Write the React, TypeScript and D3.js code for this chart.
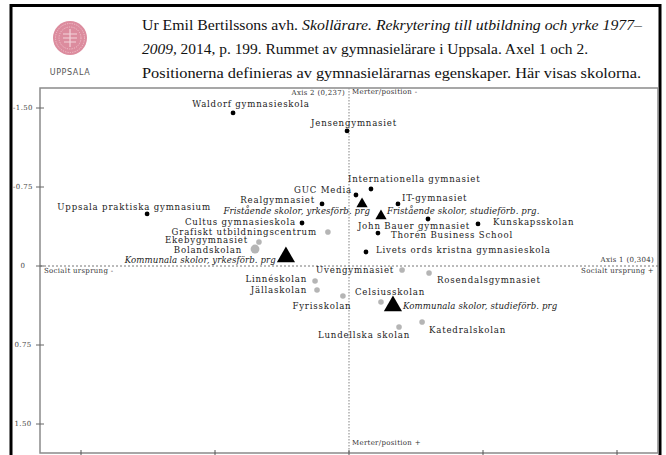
import React, { useRef, useEffect } from 'react';
import * as d3 from 'd3';

// Schools, coordinates on axis 1 (x) and axis 2 (y)
const schools = [
  'Waldorf gymnasieskola', 'Jensengymnasiet', 'Internationella gymnasiet', 'GUC Media',
  'Realgymnasiet', 'IT-gymnasiet', 'Uppsala praktiska gymnasium', 'Cultus gymnasieskola',
  'John Bauer gymnasiet', 'Kunskapsskolan', 'Thorén Business School', 'Livets ords kristna gymnasieskola',
  'Grafiskt utbildningscentrum', 'Ekebygymnasiet', 'Bolandskolan', 'Uvengymnasiet',
  'Rosendalsgymnasiet', 'Linnéskolan', 'Jällaskolan', 'Fyrisskolan',
  'Celsiusskolan', 'Katedralskolan', 'Lundellska skolan',
];
const axis1 = [
  -0.649, -0.011, 0.123, 0.039, -0.151, 0.274, -1.130, -0.263, 0.442, 0.722, 0.162, 0.095,
  -0.118, -0.504, -0.526, 0.297, 0.448, -0.190, -0.179, -0.034, 0.179, 0.409, 0.280,
];
const axis2 = [
  -1.453, -1.282, -0.731, -0.674, -0.589, -0.589, -0.494, -0.408, -0.446, -0.399, -0.313, -0.133,
  -0.323, -0.228, -0.161, 0.038, 0.066, 0.142, 0.228, 0.285, 0.342, 0.532, 0.579,
];
// true = fristående (black), false = kommunal (grey)
const independent = [
  true, true, true, true, true, true, true, true, true, true, true, true,
  false, false, false, false, false, false, false, false, false, false, false,
];
const weight = [1, 1, 1, 1, 1, 1, 1, 1, 1, 1, 1, 1, 1, 1, 2.5, 1, 1, 1, 1, 1, 1, 1, 1];

// Supplementary category points
const groups = [
  'Fristående skolor, yrkesförb. prg',
  'Fristående skolor, studieförb. prg.',
  'Kommunala skolor, yrkesförb. prg',
  'Kommunala skolor, studieförb. prg',
];
const groupAxis1 = [0.073, 0.179, -0.353, 0.246];
const groupAxis2 = [-0.589, -0.475, -0.085, 0.380];
const groupWeight = [1, 1, 2.6, 2.6];

const ticks = [-1.5, -0.75, 0, 0.75, 1.5];
const tickLabels = ['-1.50', '-0.75', '0', '0.75', '1.50'];

// label placement: [dx, dy, anchor]
const labelPos: Record<string, [number, number, string]> = {
  'Waldorf gymnasieskola': [18, -8, 'middle'],
  'Jensengymnasiet': [7, -7, 'middle'],
  'Internationella gymnasiet': [-23, -10, 'start'],
  'GUC Media': [-4, -5, 'end'],
  'Realgymnasiet': [-7, -3, 'end'],
  'IT-gymnasiet': [4, -5, 'start'],
  'Uppsala praktiska gymnasium': [-13, -6, 'middle'],
  'Cultus gymnasieskola': [-6, -1, 'end'],
  'John Bauer gymnasiet': [-14, 7, 'middle'],
  'Kunskapsskolan': [15, -1, 'start'],
  'Thorén Business School': [13, 2, 'start'],
  'Livets ords kristna gymnasieskola': [10, -1, 'start'],
  'Grafiskt utbildningscentrum': [-11, 1, 'end'],
  'Ekebygymnasiet': [-11, -1, 'end'],
  'Bolandskolan': [-13, 1, 'end'],
  'Uvengymnasiet': [-8, 0, 'end'],
  'Rosendalsgymnasiet': [8, 8, 'start'],
  'Linnéskolan': [-8, -1, 'end'],
  'Jällaskolan': [-10, 0, 'end'],
  'Fyrisskolan': [-21, 10, 'middle'],
  'Celsiusskolan': [-26, -10, 'start'],
  'Katedralskolan': [7, 8, 'start'],
  'Lundellska skolan': [-35, 9, 'middle'],
  'Fristående skolor, yrkesförb. prg': [8, 8, 'end'],
  'Fristående skolor, studieförb. prg.': [6, -4, 'start'],
  'Kommunala skolor, yrkesförb. prg': [-10, 3, 'end'],
  'Kommunala skolor, studieförb. prg': [10, 0, 'start'],
};

const W = 666;
const H = 455;
const labelFont = '"DejaVu Serif", serif';

const App: React.FC = () => {
  const svgRef = useRef<SVGSVGElement>(null);

  useEffect(() => {
    if (!svgRef.current) return;
    const svg = d3.select(svgRef.current);
    svg.selectAll('*').remove();

    // Plot box
    const box = { left: 40, right: 658, top: 88, bottom: 453 };

    const x = d3.scaleLinear().domain([-1.5, 1.5]).range([81, 617]);
    const y = d3.scaleLinear().domain([-1.5, 1.5]).range([108, 424]);

    // Outer frame
    svg.append('rect')
      .attr('x', 11).attr('y', 5.5)
      .attr('width', 649).attr('height', 470)
      .attr('fill', 'white')
      .attr('stroke', '#000')
      .attr('stroke-width', 3);

    // Logo
    const logo = svg.append('g').attr('transform', 'translate(70,38)');
    logo.append('circle').attr('r', 17).attr('fill', '#dc8c9e');
    [14.5, 11].forEach(r => {
      logo.append('circle').attr('r', r)
        .attr('fill', 'none').attr('stroke', '#f4cbd4')
        .attr('stroke-width', 0.8).attr('stroke-dasharray', '1.2,1.2');
    });
    logo.append('path')
      .attr('d', 'M-7,-4 L7,-4 M-7,0 L7,0 M-6,4 L6,4 M0,-9 L0,9')
      .attr('stroke', '#f3d3da').attr('stroke-width', 1.2);
    svg.append('text')
      .attr('x', 70).attr('y', 75)
      .attr('text-anchor', 'middle')
      .attr('font-family', '"DejaVu Sans", sans-serif')
      .attr('font-size', '8px')
      .attr('letter-spacing', '0.6px')
      .attr('fill', '#555')
      .text('UPPSALA');

    // Caption
    const cap = svg.append('g')
      .attr('font-family', '"Liberation Serif", serif')
      .attr('font-size', '15px')
      .attr('fill', '#111');
    const l1 = cap.append('text').attr('x', 142).attr('y', 30)
      .attr('textLength', 500).attr('lengthAdjust', 'spacingAndGlyphs');
    l1.append('tspan').text('Ur Emil Bertilssons avh. ');
    l1.append('tspan').attr('font-style', 'italic').text('Skollärare. Rekrytering till utbildning och yrke 1977–');
    const l2 = cap.append('text').attr('x', 142).attr('y', 54)
      .attr('textLength', 446).attr('lengthAdjust', 'spacingAndGlyphs');
    l2.append('tspan').attr('font-style', 'italic').text('2009,');
    l2.append('tspan').text(' 2014, p. 199. Rummet av gymnasielärare i Uppsala. Axel 1 och 2.');
    cap.append('text').attr('x', 142).attr('y', 78)
      .attr('textLength', 499).attr('lengthAdjust', 'spacingAndGlyphs')
      .text('Positionerna  definieras av gymnasielärarnas egenskaper. Här visas skolorna.');

    // Inner box
    svg.append('rect')
      .attr('x', box.left).attr('y', box.top)
      .attr('width', box.right - box.left).attr('height', box.bottom - box.top)
      .attr('fill', 'white')
      .attr('stroke', '#8a8a8a')
      .attr('stroke-width', 1.5);

    // Zero lines
    svg.append('line')
      .attr('x1', x(0)).attr('x2', x(0))
      .attr('y1', box.top).attr('y2', box.bottom)
      .attr('stroke', '#999').attr('stroke-width', 1.2)
      .attr('stroke-dasharray', '1.5,1.5');
    svg.append('line')
      .attr('x1', box.left).attr('x2', box.right)
      .attr('y1', y(0)).attr('y2', y(0))
      .attr('stroke', '#777').attr('stroke-width', 1)
      .attr('stroke-dasharray', '2,2');

    // Y ticks (left)
    const yt = svg.append('g');
    yt.selectAll('line').data(ticks).enter().append('line')
      .attr('x1', box.left - 4).attr('x2', box.left + 4)
      .attr('y1', d => y(d)).attr('y2', d => y(d))
      .attr('stroke', '#666').attr('stroke-width', 1);
    yt.selectAll('text').data(ticks).enter().append('text')
      .attr('x', 23).attr('y', d => y(d))
      .attr('text-anchor', 'middle')
      .attr('dominant-baseline', 'middle')
      .attr('font-family', labelFont)
      .attr('font-size', '7px')
      .attr('letter-spacing', '0.4px')
      .attr('fill', '#444')
      .text((d, i) => tickLabels[i]);

    // X ticks (bottom)
    const xt = svg.append('g');
    xt.selectAll('line').data(ticks).enter().append('line')
      .attr('x1', d => x(d)).attr('x2', d => x(d))
      .attr('y1', box.bottom - 3).attr('y2', box.bottom + 3)
      .attr('stroke', '#555').attr('stroke-width', 1);
    xt.selectAll('text').data(ticks).enter().append('text')
      .attr('x', d => x(d)).attr('y', box.bottom + 7)
      .attr('text-anchor', 'middle')
      .attr('dominant-baseline', 'middle')
      .attr('font-family', labelFont)
      .attr('font-size', '7px')
      .attr('letter-spacing', '0.4px')
      .attr('fill', '#444')
      .text((d, i) => tickLabels[i]);

    // Axis annotations
    const ann = svg.append('g')
      .attr('font-family', labelFont)
      .attr('font-size', '7px')
      .attr('letter-spacing', '0.3px')
      .attr('fill', '#333');
    ann.append('text').attr('x', x(0) - 4).attr('y', box.top + 5)
      .attr('text-anchor', 'end').attr('dominant-baseline', 'middle').text('Axis 2 (0,237)');
    ann.append('text').attr('x', x(0) + 3).attr('y', box.top + 4)
      .attr('dominant-baseline', 'middle').text('Merter/position -');
    ann.append('text').attr('x', box.right - 4).attr('y', y(0) - 6)
      .attr('text-anchor', 'end').attr('dominant-baseline', 'middle').text('Axis 1 (0,304)');
    ann.append('text').attr('x', box.left + 4).attr('y', y(0) + 5)
      .attr('dominant-baseline', 'middle').text('Socialt ursprung -');
    ann.append('text').attr('x', box.right - 4).attr('y', y(0) + 5)
      .attr('text-anchor', 'end').attr('dominant-baseline', 'middle').text('Socialt ursprung +');
    ann.append('text').attr('x', x(0) + 3).attr('y', box.bottom - 10)
      .attr('dominant-baseline', 'middle').text('Merter/position +');

    // School points
    const idx = d3.range(schools.length);
    svg.append('g').selectAll('circle').data(idx).enter().append('circle')
      .attr('cx', i => x(axis1[i]))
      .attr('cy', i => y(axis2[i]))
      .attr('r', i => (independent[i] ? 2.4 : 2.8) * Math.sqrt(weight[i]))
      .attr('fill', i => (independent[i] ? '#000' : '#b5b5b5'));

    svg.append('g').selectAll('text').data(idx).enter().append('text')
      .attr('x', i => x(axis1[i]) + labelPos[schools[i]][0])
      .attr('y', i => y(axis2[i]) + labelPos[schools[i]][1])
      .attr('text-anchor', i => labelPos[schools[i]][2])
      .attr('dominant-baseline', 'middle')
      .attr('font-family', labelFont)
      .attr('font-size', '8.6px')
      .attr('letter-spacing', '0.8px')
      .attr('fill', '#222')
      .text(i => schools[i]);

    // Group triangles
    const gIdx = d3.range(groups.length);
    const tri = d3.symbol().type(d3.symbolTriangle);
    svg.append('g').selectAll('path').data(gIdx).enter().append('path')
      .attr('transform', i => `translate(${x(groupAxis1[i])},${y(groupAxis2[i])})`)
      .attr('d', i => tri.size(55 * groupWeight[i])() as string)
      .attr('fill', '#000');

    svg.append('g').selectAll('text').data(gIdx).enter().append('text')
      .attr('x', i => x(groupAxis1[i]) + labelPos[groups[i]][0])
      .attr('y', i => y(groupAxis2[i]) + labelPos[groups[i]][1])
      .attr('text-anchor', i => labelPos[groups[i]][2])
      .attr('dominant-baseline', 'middle')
      .attr('font-family', labelFont)
      .attr('font-style', 'italic')
      .attr('font-size', '8.6px')
      .attr('letter-spacing', '0.1px')
      .attr('fill', '#222')
      .text(i => groups[i]);
  }, []);

  return (
    <div style={{ position: 'fixed', left: 0, top: 0, width: W, height: H, overflow: 'hidden', background: 'white' }}>
      <svg ref={svgRef} width={W} height={H} style={{ display: 'block' }} />
    </div>
  );
};

export default App;
